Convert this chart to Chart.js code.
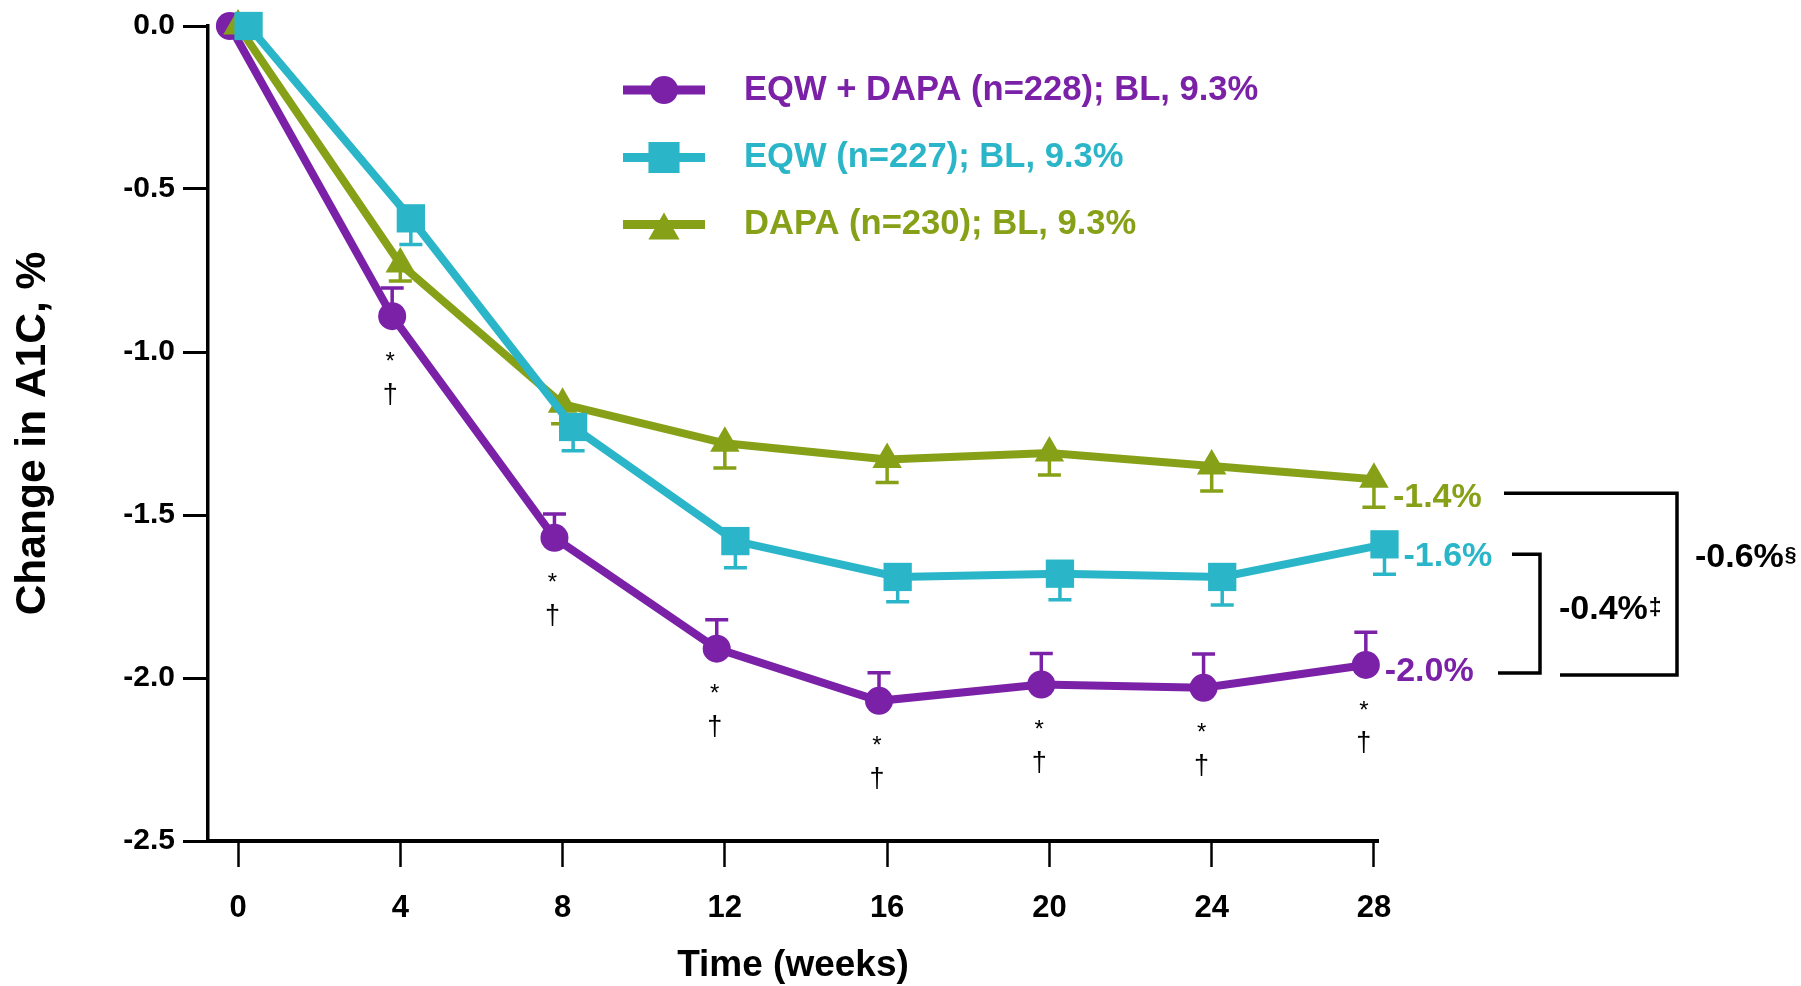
<!DOCTYPE html>
<html>
<head>
<meta charset="utf-8">
<script src="https://cdn.jsdelivr.net/npm/chart.js@4.4.1/dist/chart.umd.min.js"></script>
<style>
  html, body { margin: 0; padding: 0; background: #fff; }
</style>
</head>
<body>
<canvas id="chart" width="1801" height="986"></canvas>
<script>
const WEEKS = [0, 4, 8, 12, 16, 20, 24, 28];
const Y_TICKS = [0, -0.5, -1, -1.5, -2, -2.5];

const SERIES_LABELS = [
    'EQW + DAPA (n=228); BL, 9.3%',
    'EQW (n=227); BL, 9.3%',
    'DAPA (n=230); BL, 9.3%',
];

// LS mean change in A1C (%) and standard errors
const EQW_DAPA = [0, -0.89, -1.57, -1.91, -2.07, -2.02, -2.03, -1.96];
const EQW = [0, -0.59, -1.23, -1.58, -1.69, -1.68, -1.69, -1.59];
const DAPA = [0, -0.73, -1.16, -1.28, -1.33, -1.31, -1.35, -1.39];

const EQW_DAPA_SE = [0, 0.086, 0.073, 0.089, 0.086, 0.095, 0.104, 0.10];
const EQW_SE = [0, 0.08, 0.073, 0.082, 0.076, 0.08, 0.086, 0.092];
const DAPA_SE = [0, 0.052, 0.06, 0.076, 0.07, 0.067, 0.076, 0.086];

// weeks where EQW + DAPA differs from both monotherapies
const SIG_WEEKS = [4, 8, 12, 16, 20, 24, 28];

const DIFF_TEXT = ['-0.4%', '-0.6%'];
const DIFF_MARK = ['\u2021', '\u00a7'];

const PURPLE = '#7b21a8';
const TEAL = '#2ab6c8';
const GREEN = '#86a117';
const FONT = '"Liberation Sans", Arial, Helvetica, sans-serif';

// small horizontal offsets (weeks) so the three series don't sit on top of each other
const DODGE = [-0.2, 0.26, 0];

const series = [
    { values: EQW_DAPA, se: EQW_DAPA_SE, color: PURPLE, style: 'circle', radius: 14, legendRadius: 14, errDir: 1, order: 3 },
    { values: EQW, se: EQW_SE, color: TEAL, style: 'rect', radius: 20, legendRadius: 22, errDir: -1, order: 1 },
    { values: DAPA, se: DAPA_SE, color: GREEN, style: 'triangle', radius: 17, legendRadius: 18, errDir: -1, order: 2 },
];

const datasets = series.map((s, i) => ({
    label: SERIES_LABELS[i],
    data: WEEKS.map((w, j) => ({ x: w + DODGE[i], y: s.values[j] })),
    se: s.se,
    errDir: s.errDir,
    legendRadius: s.legendRadius,
    borderColor: s.color,
    backgroundColor: s.color,
    borderWidth: 8,
    pointStyle: s.style,
    pointRadius: s.radius,
    pointHoverRadius: s.radius,
    pointBackgroundColor: s.color,
    pointBorderWidth: 0,
    tension: 0,
    clip: false,
    order: s.order,
}));

function marker(ctx, style, radius, x, y) {
    if (Chart.helpers && Chart.helpers.drawPoint) {
        Chart.helpers.drawPoint(ctx, { pointStyle: style, radius, rotation: 0, borderWidth: 0 }, x, y);
        return;
    }
    ctx.beginPath();
    if (style === 'circle') {
        ctx.arc(x, y, radius, 0, Math.PI * 2);
    } else if (style === 'rect') {
        const h = radius * Math.SQRT1_2;
        ctx.rect(x - h, y - h, 2 * h, 2 * h);
    } else {
        ctx.moveTo(x, y - radius);
        ctx.lineTo(x + radius * 0.866, y + radius / 2);
        ctx.lineTo(x - radius * 0.866, y + radius / 2);
        ctx.closePath();
    }
    ctx.fill();
}

const errorBars = {
    id: 'errorBars',
    beforeDatasetsDraw(chart) {
        const { ctx, scales: { x, y } } = chart;
        chart.data.datasets.forEach(ds => {
            ctx.save();
            ctx.strokeStyle = ds.borderColor;
            ctx.lineWidth = 3.5;
            ds.data.forEach((p, j) => {
                const se = ds.se[j];
                if (!se) {
                    return;
                }
                const px = x.getPixelForValue(p.x);
                const y0 = y.getPixelForValue(p.y);
                const y1 = y.getPixelForValue(p.y + ds.errDir * se);
                ctx.beginPath();
                ctx.moveTo(px, y0);
                ctx.lineTo(px, y1);
                ctx.moveTo(px - 11.5, y1);
                ctx.lineTo(px + 11.5, y1);
                ctx.stroke();
            });
            ctx.restore();
        });
    },
};

const annotations = {
    id: 'annotations',
    afterDraw(chart) {
        const { ctx, chartArea, scales: { x, y } } = chart;
        const ds = chart.data.datasets;
        ctx.save();

        // * and † under the combination arm
        ctx.fillStyle = '#000';
        ctx.textAlign = 'center';
        ctx.textBaseline = 'middle';
        SIG_WEEKS.forEach(w => {
            const j = WEEKS.indexOf(w);
            const p = ds[0].data[j];
            const px = x.getPixelForValue(p.x) - 2;
            const py = y.getPixelForValue(p.y);
            ctx.font = `24px ${FONT}`;
            ctx.fillText('*', px, py + 46);
            ctx.font = `27px ${FONT}`;
            ctx.fillText('\u2020', px, py + 79);
        });

        // end-of-study values
        const labelDy = [6.5, 12, 18.5];
        const ends = ds.map((d, i) => {
            const last = d.data[d.data.length - 1];
            return {
                x: x.getPixelForValue(last.x) + 19,
                y: y.getPixelForValue(last.y) + labelDy[i],
                text: `${last.y.toFixed(1)}%`,
                color: d.borderColor,
            };
        });
        ctx.textAlign = 'left';
        ctx.font = `bold 34px ${FONT}`;
        ends.forEach(e => {
            ctx.fillStyle = e.color;
            ctx.fillText(e.text, e.x, e.y);
        });

        // brackets for the between-arm differences
        const r = chartArea.right;
        const pY = ends[0].y, tY = ends[1].y, gY = ends[2].y;
        ctx.strokeStyle = '#000';
        ctx.lineWidth = 3.5;
        ctx.lineJoin = 'miter';
        ctx.beginPath();
        ctx.moveTo(r + 134, tY - 2);
        ctx.lineTo(r + 162, tY - 2);
        ctx.lineTo(r + 162, pY + 1.5);
        ctx.lineTo(r + 120, pY + 1.5);
        ctx.stroke();
        ctx.beginPath();
        ctx.moveTo(r + 126, gY - 4.5);
        ctx.lineTo(r + 299, gY - 4.5);
        ctx.lineTo(r + 299, pY + 3.5);
        ctx.lineTo(r + 182, pY + 3.5);
        ctx.stroke();

        const diffs = [
            { x: r + 181, y: (tY + pY) / 2 - 4.5, size: 23, lift: 6 },
            { x: r + 317, y: tY + 1.5, size: 21, lift: 9 },
        ];
        ctx.fillStyle = '#000';
        diffs.forEach((d, i) => {
            ctx.font = `bold 34px ${FONT}`;
            ctx.textBaseline = 'middle';
            ctx.fillText(DIFF_TEXT[i], d.x, d.y);
            const w = ctx.measureText(DIFF_TEXT[i]).width;
            ctx.font = `bold ${d.size}px ${FONT}`;
            ctx.textBaseline = 'alphabetic';
            ctx.fillText(DIFF_MARK[i], d.x + w + 1, d.y + 12 - d.lift);
        });

        // legend: line sample with marker, then label
        const rowY = [90, 157.5, 224.5];
        const markDy = [0, 0, 6];
        ds.forEach((d, i) => {
            const cy = rowY[i];
            ctx.strokeStyle = d.borderColor;
            ctx.fillStyle = d.borderColor;
            ctx.lineWidth = 9;
            ctx.beginPath();
            ctx.moveTo(623, cy);
            ctx.lineTo(705, cy);
            ctx.stroke();
            marker(ctx, d.pointStyle, d.legendRadius, 664, cy + markDy[i]);
            ctx.font = `bold 34.6px ${FONT}`;
            ctx.textAlign = 'left';
            ctx.textBaseline = 'middle';
            ctx.fillText(d.label, 744, cy);
        });

        ctx.restore();
    },
};

new Chart(document.getElementById('chart'), {
    type: 'line',
    data: { datasets },
    options: {
        responsive: false,
        devicePixelRatio: 1,
        animation: false,
        events: [],
        layout: { padding: { top: 23, right: 423, bottom: 0, left: 0 } },
        plugins: {
            legend: { display: false },
            tooltip: { enabled: false },
        },
        scales: {
            x: {
                type: 'linear',
                min: -0.74,
                max: 28.1,
                afterBuildTicks: s => { s.ticks = WEEKS.map(v => ({ value: v })); },
                afterFit: s => { s.height = 145; },
                grid: { drawOnChartArea: false, drawTicks: true, tickLength: 26, tickWidth: 2.5, tickColor: '#000' },
                border: { display: true, color: '#000', width: 4 },
                ticks: {
                    color: '#000',
                    padding: 23,
                    font: { family: FONT, size: 31, weight: 'bold' },
                    callback: v => String(v),
                },
                title: {
                    display: true,
                    text: 'Time (weeks)',
                    color: '#000',
                    font: { family: FONT, size: 37, weight: 'bold', lineHeight: 1 },
                    padding: { top: 0, bottom: 2 },
                },
            },
            y: {
                min: -2.5,
                max: 0,
                afterBuildTicks: s => { s.ticks = Y_TICKS.map(v => ({ value: v })); },
                afterFit: s => { s.width = 208; },
                grid: { drawOnChartArea: false, drawTicks: true, tickLength: 25, tickWidth: 3, tickColor: '#000' },
                border: { display: true, color: '#000', width: 3.5 },
                ticks: {
                    color: '#000',
                    padding: 8,
                    font: { family: FONT, size: 30, weight: 'bold' },
                    callback: v => v.toFixed(1),
                },
                title: {
                    display: true,
                    text: 'Change in A1C, %',
                    color: '#000',
                    font: { family: FONT, size: 42.5, weight: 'bold', lineHeight: 1 },
                    padding: { top: 12, bottom: 0 },
                },
            },
        },
    },
    plugins: [errorBars, annotations],
});
</script>
</body>
</html>
